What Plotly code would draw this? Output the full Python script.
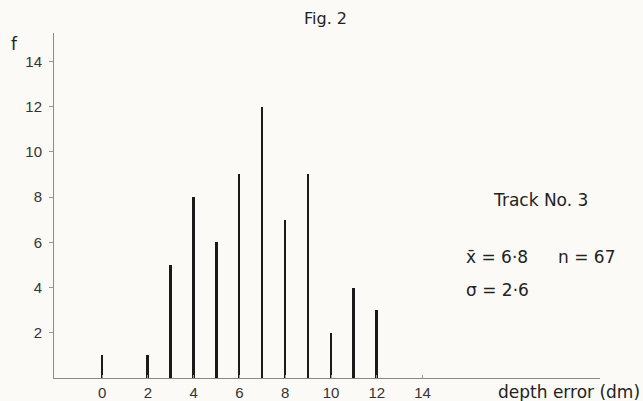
import plotly.graph_objects as go

depth_error = [0, 2, 3, 4, 5, 6, 7, 8, 9, 10, 11, 12]
frequency = [1, 1, 5, 8, 6, 9, 12, 7, 9, 2, 4, 3]
x_ticks = [0, 2, 4, 6, 8, 10, 12, 14]
y_ticks = [2, 4, 6, 8, 10, 12, 14]

bg = "#fbfaf6"
tick_font = "Liberation Sans, Arial, sans-serif"
text_font = "DejaVu Sans, sans-serif"

W, H = 643, 401
l, r, t, b = 54, 43, 33, 23
pw, ph = W - l - r, H - t - b

fig = go.Figure()
fig.add_trace(go.Bar(
    x=depth_error, y=frequency, width=0.085,
    marker=dict(color="#1a1a1a", line=dict(width=0)),
    showlegend=False,
))

fig.update_layout(
    width=W, height=H,
    margin=dict(l=l, r=r, t=t, b=b, autoexpand=False),
    paper_bgcolor=bg, plot_bgcolor=bg,
    font=dict(family=tick_font, size=15, color="#333333"),
    bargap=0,
)
fig.update_xaxes(
    range=[-2.1, 21.75], tickvals=x_ticks, ticktext=[str(v) for v in x_ticks],
    showgrid=False, zeroline=False, showline=True, linecolor="#8a8a8a", linewidth=1,
    ticks="inside", ticklen=3, tickcolor="#9a9a9a", automargin=False,
    tickfont=dict(size=15, color="#333333", family=tick_font), ticklabelstandoff=1,
)
fig.update_yaxes(
    range=[0, 15.25], tickvals=y_ticks, ticktext=[str(v) for v in y_ticks],
    showgrid=False, zeroline=False, showline=True, linecolor="#8a8a8a", linewidth=1,
    ticks="outside", ticklen=4, tickcolor="#9a9a9a", automargin=False,
    tickfont=dict(size=15, color="#333333", family=tick_font), ticklabelstandoff=4,
)

annots = [
    dict(text="Fig. 2", x=325, y=18, size=16),
    dict(text="f", x=14, y=44, size=17),
    dict(text="Track No. 3", x=540, y=200, size=17),
    dict(text="x\u0304 = 6\u00b78", x=497, y=257, size=17),
    dict(text="n = 67", x=586, y=257, size=17),
    dict(text="\u03c3 = 2\u00b76", x=497, y=290, size=17),
    dict(text="depth error (dm)", x=569, y=392, size=17),
]
for a in annots:
    fig.add_annotation(
        text=a["text"], xref="paper", yref="paper",
        x=(a["x"] - l) / pw, y=(H - b - a["y"]) / ph,
        showarrow=False,
        font=dict(size=a["size"], color="#222222", family=text_font),
        xanchor="center", yanchor="middle",
    )

fig.write_html("out.html")
